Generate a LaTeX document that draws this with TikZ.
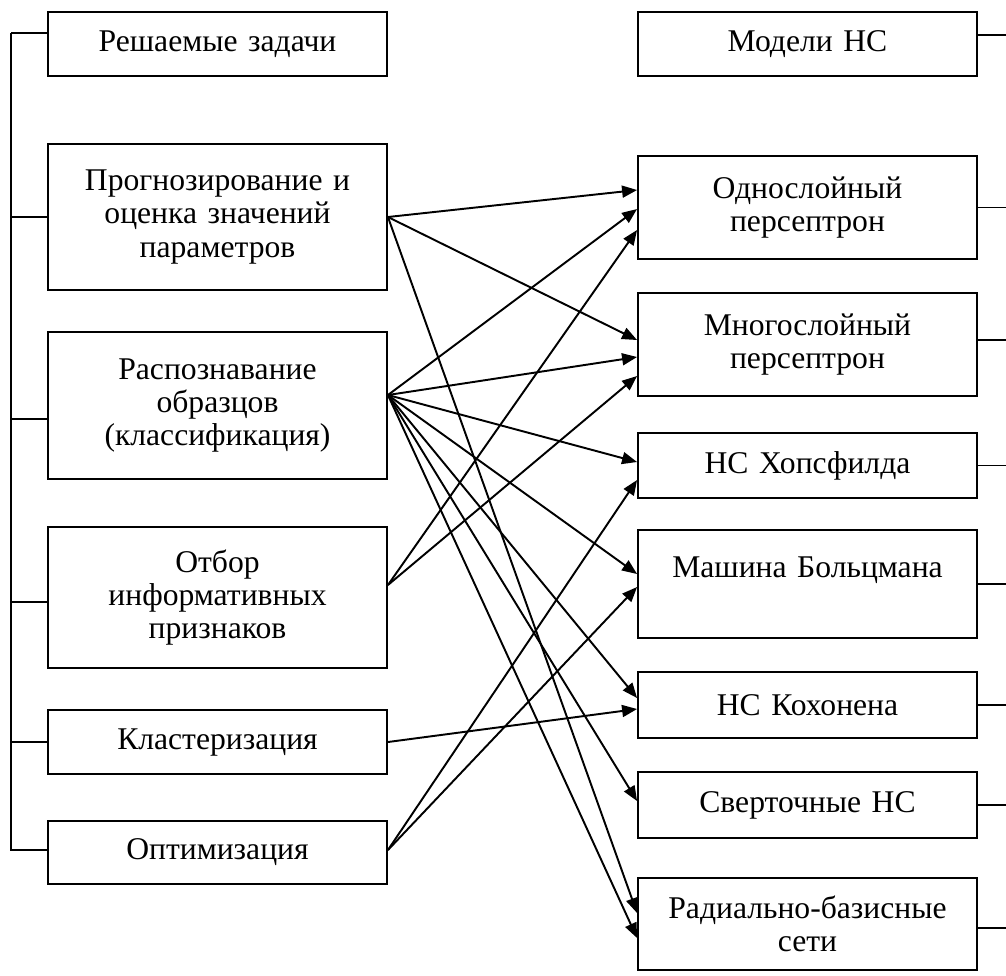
\documentclass[tikz,border=0pt]{standalone}
\usepackage{fontspec}
\setmainfont{Liberation Serif}
\usepackage{tikz}
\tikzstyle{arrow} = [line width=1.1pt,->,>={Triangle[length=0.3cm,width=0.24cm]}]
\tikzstyle{link} = [line width=1.1pt]
\tikzstyle{box} = [rectangle, draw, line width=1.1pt, minimum width=6.78cm, inner xsep=0.05cm, text width=6.6cm, align=center, font=\fontsize{18}{19}\selectfont]
\usetikzlibrary{arrows.meta}

\begin{document}
\begin{tikzpicture}[x=0.02cm, y=-0.02cm]
        \useasboundingbox (0,0) rectangle (1006,975);

        % tasks
        \node (tasks) [box, minimum height=1.28cm] at (217.5,44) {Решаемые задачи};
        \node (forecast) [box, minimum height=2.92cm] at (217.5,217) {Прогнозирование и\\ оценка значений\\ параметров};
        \node (recog) [box, minimum height=2.94cm] at (217.5,405.5) {Распознавание\\ образцов\\ (классификация)};
        \node (select) [box, minimum height=2.82cm] at (217.5,597.5) {Отбор\\ информативных\\ признаков};
        \node (cluster) [box, minimum height=1.28cm] at (217.5,742) {Кластеризация};
        \node (optim) [box, minimum height=1.26cm] at (217.5,852.5) {Оптимизация};

        % models
        \node (models) [box, minimum height=1.28cm] at (807.5,44) {Модели НС};
        \node (single) [box, minimum height=2.06cm] at (807.5,207.5) {Однослойный\\ персептрон};
        \node (multi) [box, minimum height=2.06cm] at (807.5,344.5) {Многослойный\\ персептрон};
        \node (hopfield) [box, minimum height=1.3cm] at (807.5,465.5) {НС Хопсфилда};
        \node (boltzmann) [box, minimum height=2.16cm] at (807.5,584) {Машина Больцмана\\ ~};
        \node (kohonen) [box, minimum height=1.32cm] at (807.5,705) {НС Кохонена};
        \node (conv) [box, minimum height=1.32cm] at (807.5,805) {Сверточные НС};
        \node (rbf) [box, minimum height=1.84cm] at (807.5,924) {Радиально-базисные\\ сети};

        \coordinate (spine_top) at (11,33);
        \coordinate (spine_bottom) at (11,850);
        \coordinate (rim) at (1006,0);

        % left bracket
        \draw [link] (spine_top) -- ([yshift=0.22cm]tasks.west);
        \draw [link] (spine_top) -- (spine_bottom) -- ([yshift=0.05cm]optim.west);
        \draw [link] (spine_top) |- (forecast.west);
        \draw [link] (spine_top) |- ([yshift=-0.27cm]recog.west);
        \draw [link] (spine_top) |- ([yshift=-0.09cm]select.west);
        \draw [link] (spine_top) |- (cluster.west);

        % right stubs
        \draw [link] ([yshift=0.18cm]models.east) -- ([yshift=0.18cm]models.east -| rim);
        \draw [link] (single.east) -- (single.east -| rim);
        \draw [link] ([yshift=0.09cm]multi.east) -- ([yshift=0.09cm]multi.east -| rim);
        \draw [link] (hopfield.east) -- (hopfield.east -| rim);
        \draw [link] (boltzmann.east) -- (boltzmann.east -| rim);
        \draw [link] (kohonen.east) -- (kohonen.east -| rim);
        \draw [link] (conv.east) -- (conv.east -| rim);
        \draw [link] ([yshift=-0.08cm]rbf.east) -- ([yshift=-0.08cm]rbf.east -| rim);

        % links task -> model
        \draw [arrow] (forecast.east) -- ([yshift=0.35cm]single.west);
        \draw [arrow] (forecast.east) -- ([yshift=0.09cm]multi.west);
        \draw [arrow] (forecast.east) -- ([yshift=0.22cm]rbf.west);

        \draw [arrow] ([yshift=0.21cm]recog.east) -- ([yshift=-0.03cm]single.west);
        \draw [arrow] ([yshift=0.21cm]recog.east) -- ([yshift=-0.25cm]multi.west);
        \draw [arrow] ([yshift=0.21cm]recog.east) -- ([yshift=0.07cm]hopfield.west);
        \draw [arrow] ([yshift=0.21cm]recog.east) -- ([yshift=0.2cm]boltzmann.west);
        \draw [arrow] ([yshift=0.21cm]recog.east) -- ([yshift=0.14cm]kohonen.west);
        \draw [arrow] ([yshift=0.21cm]recog.east) -- ([yshift=0.08cm]conv.west);
        \draw [arrow] ([yshift=0.21cm]recog.east) -- ([yshift=-0.28cm]rbf.west);

        \draw [arrow] ([yshift=0.25cm]select.east) -- ([yshift=-0.45cm]single.west);
        \draw [arrow] ([yshift=0.25cm]select.east) -- ([yshift=-0.63cm]multi.west);

        \draw [arrow] (cluster.east) -- ([yshift=-0.08cm]kohonen.west);

        \draw [arrow] ([yshift=0.05cm]optim.east) -- ([yshift=-0.29cm]hopfield.west);
        \draw [arrow] ([yshift=0.05cm]optim.east) -- ([yshift=-0.06cm]boltzmann.west);

\end{tikzpicture}
\end{document}
